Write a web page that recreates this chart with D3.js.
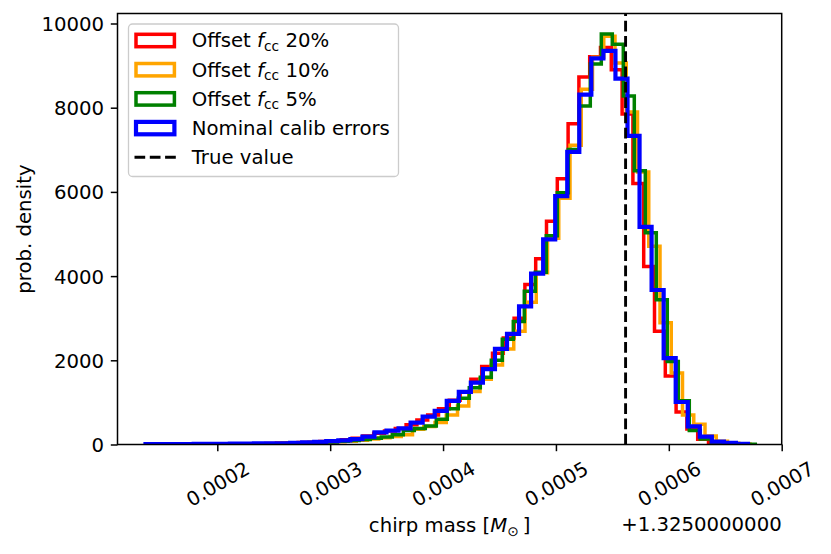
<!DOCTYPE html>
<html><head><meta charset="utf-8">
<script src="https://cdn.jsdelivr.net/npm/d3@7"></script>
<style>
body{margin:0;background:#fff}
svg{display:block}
text{font-family:"DejaVu Sans",sans-serif;fill:#000}
</style>
</head><body>
<svg id="chart" width="831" height="554"></svg>
<script>
// ---- data (x values are offsets from 1.325 M_sun) ----
const seriesLabels = ["20%", "10%", "5%"];
const seriesColors = ["#ff0000", "#ffa500", "#008000", "#0000ff"];
const binCount = 50;

const redRange    = [0.00018547, 0.00066386];
const orangeRange = [0.0001736,  0.00067192];
const greenRange  = [0.00018937, 0.00067661];
const blueRange   = [0.00013639, 0.00067015];

const redValues = [5,8,10,12,15,20,25,35,40,45,
  55,70,90,110,150,200,270,320,380,470,
  580,700,850,1050,1250,1550,1850,2170,2530,3000,
  3800,4410,5300,6310,7620,8730,9210,9430,8900,7850,
  6200,4230,2690,1630,770,370,125,50,20,8];
const orangeValues = [5,6,8,10,12,15,18,20,25,30,
  35,45,55,65,80,100,130,160,190,230,
  360,430,520,700,915,1257,1550,1890,2270,2690,
  3380,4080,4900,5850,7110,8440,9200,9700,9060,7900,
  6470,4710,2890,1700,700,480,200,80,30,12];
const greenValues = [5,6,8,10,12,15,20,25,30,40,
  50,60,75,95,120,150,180,230,330,380,
  440,600,850,1100,1350,1600,2000,2500,2920,3640,
  4090,4960,5980,7010,8040,9040,9750,9510,8280,6500,
  5030,3440,1970,1040,330,130,60,30,15,8];
const blueValues = [10,10,10,10,15,15,15,20,20,25,
  30,30,40,50,60,80,100,130,185,290,
  330,385,520,660,800,1035,1250,1470,1790,2270,
  2630,3280,4060,4870,5900,6950,8310,9170,9350,8690,
  7330,5170,3670,2050,1010,430,185,70,40,15];

const trueValue = 0.0005617;
const xTicks = [0.0002, 0.0003, 0.0004, 0.0005, 0.0006, 0.0007];
const yTicks = [0, 2000, 4000, 6000, 8000, 10000];
const xDomain = [0.00011159, 0.0007];
const offsetText = "+1.3250000000";

// ---- layout ----
const pL = 117.5, pR = 781.7, pT = 13.5, pB = 444.5;
const FS = 19.7;
const lineWidths = [3.5, 3.5, 3.5, 4.2];

const svg = d3.select("#chart");
const x = d3.scaleLinear().domain(xDomain).range([pL, pR]);
const allMax = d3.max([redValues, orangeValues, greenValues, blueValues].flat());
const y = d3.scaleLinear().domain([0, allMax * 1.05]).range([pB, pT]);

svg.append("defs").append("clipPath").attr("id", "plotclip")
  .append("rect").attr("x", pL).attr("y", pT).attr("width", pR - pL).attr("height", pB - pT);

const series = [
  {range: redRange, values: redValues, color: seriesColors[0], lw: lineWidths[0]},
  {range: orangeRange, values: orangeValues, color: seriesColors[1], lw: lineWidths[1]},
  {range: greenRange, values: greenValues, color: seriesColors[2], lw: lineWidths[2]},
  {range: blueRange, values: blueValues, color: seriesColors[3], lw: lineWidths[3]}
];

const line = d3.line().x(d => x(d[0])).y(d => y(d[1])).curve(d3.curveStepAfter);
const plot = svg.append("g").attr("clip-path", "url(#plotclip)");

series.forEach(s => {
  const [a, b] = s.range;
  const w = (b - a) / binCount;
  const pts = [[a, 0]];
  s.values.forEach((v, i) => pts.push([a + i * w, v]));
  pts.push([b, s.values[s.values.length - 1]]);
  pts.push([b, 0]);
  plot.append("path").attr("d", line(pts))
    .attr("fill", "none").attr("stroke", s.color)
    .attr("stroke-width", s.lw).attr("stroke-linejoin", "miter");
});

// true value line
plot.append("line")
  .attr("x1", x(trueValue)).attr("x2", x(trueValue))
  .attr("y1", pB).attr("y2", pT)
  .attr("stroke", "#000").attr("stroke-width", 2.9)
  .attr("stroke-dasharray", "10.7,4.6");

// ---- axes ----
const xAxis = d3.axisBottom(x).tickValues(xTicks).tickSize(6.7).tickFormat(d3.format(".4f"));
const gx = svg.append("g").attr("transform", `translate(0,${pB})`).call(xAxis);
gx.select(".domain").remove();
gx.selectAll(".tick line").attr("stroke", "#000").attr("stroke-width", 1.5);
gx.selectAll(".tick text")
  .attr("font-size", FS).attr("font-family", "DejaVu Sans").attr("fill", "#000")
  .attr("text-anchor", "middle").attr("dy", "0.35em").attr("y", 0)
  .attr("transform", "translate(0,39.5) rotate(-30)");

const yAxis = d3.axisLeft(y).tickValues(yTicks).tickSize(6.7).tickPadding(6.7).tickFormat(d3.format("d"));
const gy = svg.append("g").attr("transform", `translate(${pL},0)`).call(yAxis);
gy.select(".domain").remove();
gy.selectAll(".tick line").attr("stroke", "#000").attr("stroke-width", 1.5);
gy.selectAll(".tick text").attr("font-size", FS).attr("font-family", "DejaVu Sans").attr("fill", "#000").attr("dy", "0.35em");

// spines
svg.append("rect").attr("x", pL).attr("y", pT).attr("width", pR - pL).attr("height", pB - pT)
  .attr("fill", "none").attr("stroke", "#000").attr("stroke-width", 1.5);

// labels
const xl = svg.append("text").attr("x", (pL + pR) / 2).attr("y", 532)
  .attr("text-anchor", "middle").attr("font-size", FS);
xl.append("tspan").text("chirp mass [");
xl.append("tspan").attr("font-style", "italic").text("M");
xl.append("tspan").attr("font-size", FS * 0.7).attr("dy", 4).text("\u2299");
xl.append("tspan").attr("dy", -4).text("\u2009]");

svg.append("text").attr("x", pR).attr("y", 530.5).attr("text-anchor", "end")
  .attr("font-size", FS).text(offsetText);

svg.append("text").attr("transform", `translate(31,${(pT + pB) / 2}) rotate(-90)`)
  .attr("text-anchor", "middle").attr("font-size", FS).text("prob. density");

// ---- legend ----
const lg = svg.append("g");
lg.append("rect").attr("x", 128.5).attr("y", 24).attr("width", 270).attr("height", 152.5)
  .attr("rx", 4).attr("fill", "#fff").attr("fill-opacity", 0.8)
  .attr("stroke", "#cccccc").attr("stroke-width", 1.3);
const rowY = [40.5, 69.7, 98.9, 128.1, 157.3];
const hx0 = 136, hx1 = 174.4;
series.forEach((s, i) => {
  lg.append("rect").attr("x", hx0).attr("y", rowY[i] - 6.2).attr("width", hx1 - hx0).attr("height", 12.4)
    .attr("fill", "none").attr("stroke", s.color).attr("stroke-width", s.lw);
});
lg.append("line").attr("x1", hx0 - 1.5).attr("x2", hx1 + 1.5).attr("y1", rowY[4]).attr("y2", rowY[4])
  .attr("stroke", "#000").attr("stroke-width", 2.9).attr("stroke-dasharray", "10.7,4.6");

const tx = 191.7;
seriesLabels.forEach((lab, i) => {
  const t = lg.append("text").attr("x", tx).attr("y", rowY[i] + 6.8).attr("font-size", FS);
  t.append("tspan").text("Offset ");
  t.append("tspan").attr("font-style", "italic").text("f");
  t.append("tspan").attr("font-size", FS * 0.7).attr("dy", 3.5).text("cc");
  t.append("tspan").attr("dy", -3.5).text(" " + lab);
});
lg.append("text").attr("x", tx).attr("y", rowY[3] + 6.8).attr("font-size", FS).text("Nominal calib errors");
lg.append("text").attr("x", tx).attr("y", rowY[4] + 6.8).attr("font-size", FS).text("True value");
</script>
</body></html>
